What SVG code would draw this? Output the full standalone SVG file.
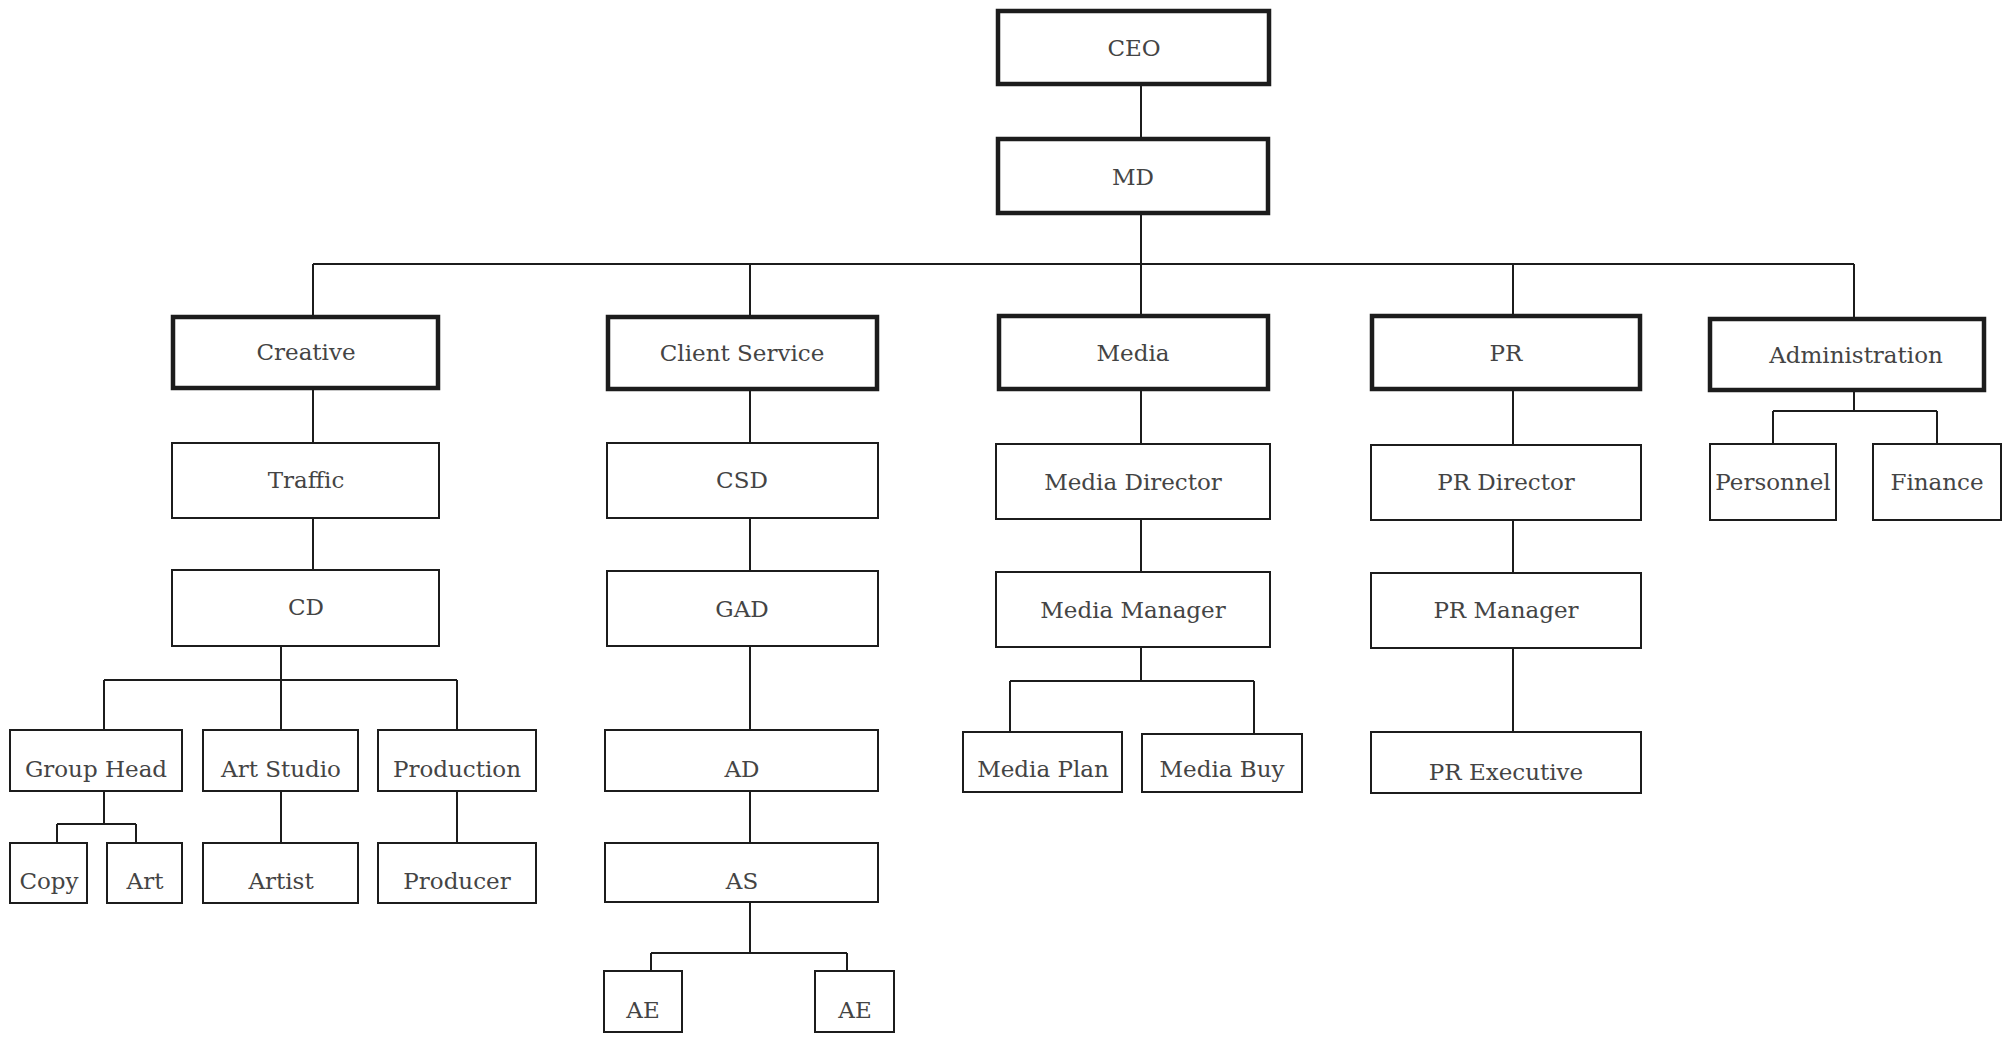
<svg xmlns="http://www.w3.org/2000/svg" width="2011" height="1041" viewBox="0 0 2011 1041">
  <style>
    .box { fill: #ffffff; stroke: #1c1c1c; stroke-width: 2; }
    .head { fill: #ffffff; stroke: #1c1c1c; stroke-width: 4.5; }
    .lbl { font-family: "DejaVu Serif", "Liberation Serif", serif; font-size: 23px; fill: #444444; text-anchor: middle; }
    #links path { fill: none; stroke: #1c1c1c; stroke-width: 2; }
  </style>
  <rect x="0" y="0" width="2011" height="1041" fill="#ffffff"/>

  <!-- connectors -->
  <g id="links">
    <path d="M1141 86V137M1141 215V264"/>
    <path d="M313 264H1854M313 264V315M750 264V315M1141 264V314M1513 264V314M1854 264V317"/>
    <!-- Creative branch -->
    <path d="M313 390V442M313 519V569M281 647V680M104 680H457M104 680V729M281 680V729M457 680V729"/>
    <path d="M104 792V824M57 824H136M57 824V842M136 824V842M281 792V842M457 792V842"/>
    <!-- Client Service branch -->
    <path d="M750 391V442M750 519V570M750 647V729M750 792V842M750 903V953M651 953H847M651 953V970M847 953V970"/>
    <!-- Media branch -->
    <path d="M1141 391V443M1141 520V571M1141 648V681M1010 681H1254M1010 681V731M1254 681V733"/>
    <!-- PR branch -->
    <path d="M1513 391V444M1513 521V572M1513 649V731"/>
    <!-- Administration branch -->
    <path d="M1854 392V411M1773 411H1937M1773 411V443M1937 411V443"/>
  </g>

  <!-- top management -->
  <g id="ceo"><rect class="head" x="998" y="11" width="271" height="73"/><text class="lbl" x="1134" y="56">CEO</text></g>
  <g id="md"><rect class="head" x="998" y="139" width="270" height="74"/><text class="lbl" x="1133" y="185">MD</text></g>

  <!-- departments -->
  <g id="creative"><rect class="head" x="173" y="317" width="265" height="71"/><text class="lbl" x="306" y="360">Creative</text></g>
  <g id="client-service"><rect class="head" x="608" y="317" width="269" height="72"/><text class="lbl" x="742" y="361">Client Service</text></g>
  <g id="media"><rect class="head" x="999" y="316" width="269" height="73"/><text class="lbl" x="1133" y="361">Media</text></g>
  <g id="pr"><rect class="head" x="1372" y="316" width="268" height="73"/><text class="lbl" x="1506" y="361">PR</text></g>
  <g id="administration"><rect class="head" x="1710" y="319" width="274" height="71"/><text class="lbl" x="1856" y="363">Administration</text></g>

  <!-- Creative -->
  <g id="traffic"><rect class="box" x="172" y="443" width="267" height="75"/><text class="lbl" x="306" y="488">Traffic</text></g>
  <g id="cd"><rect class="box" x="172" y="570" width="267" height="76"/><text class="lbl" x="306" y="615">CD</text></g>
  <g id="group-head"><rect class="box" x="10" y="730" width="172" height="61"/><text class="lbl" x="96" y="777">Group Head</text></g>
  <g id="art-studio"><rect class="box" x="203" y="730" width="155" height="61"/><text class="lbl" x="281" y="777">Art Studio</text></g>
  <g id="production"><rect class="box" x="378" y="730" width="158" height="61"/><text class="lbl" x="457" y="777">Production</text></g>
  <g id="copy"><rect class="box" x="10" y="843" width="77" height="60"/><text class="lbl" x="49" y="889">Copy</text></g>
  <g id="art"><rect class="box" x="107" y="843" width="75" height="60"/><text class="lbl" x="145" y="889">Art</text></g>
  <g id="artist"><rect class="box" x="203" y="843" width="155" height="60"/><text class="lbl" x="281" y="889">Artist</text></g>
  <g id="producer"><rect class="box" x="378" y="843" width="158" height="60"/><text class="lbl" x="457" y="889">Producer</text></g>

  <!-- Client Service -->
  <g id="csd"><rect class="box" x="607" y="443" width="271" height="75"/><text class="lbl" x="742" y="488">CSD</text></g>
  <g id="gad"><rect class="box" x="607" y="571" width="271" height="75"/><text class="lbl" x="742" y="617">GAD</text></g>
  <g id="ad"><rect class="box" x="605" y="730" width="273" height="61"/><text class="lbl" x="742" y="777">AD</text></g>
  <g id="as"><rect class="box" x="605" y="843" width="273" height="59"/><text class="lbl" x="742" y="889">AS</text></g>
  <g id="ae-1"><rect class="box" x="604" y="971" width="78" height="61"/><text class="lbl" x="643" y="1018">AE</text></g>
  <g id="ae-2"><rect class="box" x="815" y="971" width="79" height="61"/><text class="lbl" x="855" y="1018">AE</text></g>

  <!-- Media -->
  <g id="media-director"><rect class="box" x="996" y="444" width="274" height="75"/><text class="lbl" x="1133" y="490">Media Director</text></g>
  <g id="media-manager"><rect class="box" x="996" y="572" width="274" height="75"/><text class="lbl" x="1133" y="618">Media Manager</text></g>
  <g id="media-plan"><rect class="box" x="963" y="732" width="159" height="60"/><text class="lbl" x="1043" y="777">Media Plan</text></g>
  <g id="media-buy"><rect class="box" x="1142" y="734" width="160" height="58"/><text class="lbl" x="1222" y="777">Media Buy</text></g>

  <!-- PR -->
  <g id="pr-director"><rect class="box" x="1371" y="445" width="270" height="75"/><text class="lbl" x="1506" y="490">PR Director</text></g>
  <g id="pr-manager"><rect class="box" x="1371" y="573" width="270" height="75"/><text class="lbl" x="1506" y="618">PR Manager</text></g>
  <g id="pr-executive"><rect class="box" x="1371" y="732" width="270" height="61"/><text class="lbl" x="1506" y="780">PR Executive</text></g>

  <!-- Administration -->
  <g id="personnel"><rect class="box" x="1710" y="444" width="126" height="76"/><text class="lbl" x="1773" y="490">Personnel</text></g>
  <g id="finance"><rect class="box" x="1873" y="444" width="128" height="76"/><text class="lbl" x="1937" y="490">Finance</text></g>
</svg>
